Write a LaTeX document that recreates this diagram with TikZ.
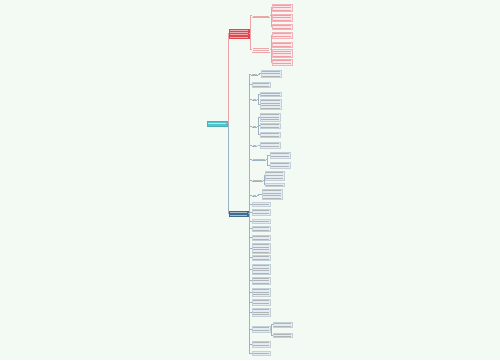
\documentclass[tikz,border=0pt]{standalone}
\usetikzlibrary{calc}
\definecolor{bg}{HTML}{F2FAF3}
\definecolor{rootc}{HTML}{55C4CA}
\definecolor{redc}{HTML}{E2464F}
\definecolor{bluec}{HTML}{3F6B8C}
\definecolor{rleaf}{HTML}{FCE8EB}
\definecolor{rleafb}{HTML}{F4B3B9}
\definecolor{bleaf}{HTML}{E6EDF2}
\definecolor{bleafb}{HTML}{C3D0DA}
\definecolor{rline}{HTML}{E9A3A9}
\definecolor{bline}{HTML}{9DB2C2}
\tikzset{
  base/.style={inner sep=0pt, outer sep=0pt, line width=0.3pt},
  rootbox/.style={base, fill=rootc, draw=rootc!90!black},
  redbox/.style={base, fill=redc, draw=redc},
  bluebox/.style={base, fill=bluec, draw=bluec},
  rleafbox/.style={base, fill=rleaf, draw=rleafb},
  bleafbox/.style={base, fill=bleaf, draw=bleafb},
  ultext/.style={base},
  rcon/.style={draw=rline, line width=0.6pt},
  bcon/.style={draw=bline, line width=0.6pt},
  wline/.style={white, line width=0.4pt, opacity=0.55},
  rtline/.style={redc, line width=0.4pt, opacity=0.45},
  btline/.style={black!70, line width=0.4pt, opacity=0.35},
}
% box: style, name, x1, y1, x2, y2
\newcommand\bx[6]{\node[#1, minimum width={(#5-#3)*1pt}, minimum height={(#6-#4)*1pt}] (#2) at ({(#3+#5)/2},{(#4+#6)/2}) {};}
% text strokes: style, node name, lines
\newcommand\tl[3]{\foreach \i [evaluate=\i as \f using (\i-0.5)/#3] in {1,...,#3}
  {\draw[#1] ($(#2.north west)!\f!(#2.south west)+(1.2,0)$) -- ($(#2.north east)!\f!(#2.south east)+(-1.2,0)$);}}
\newcommand\ul[2]{\draw[#1, line width=0.5pt] (#2.south west) -- (#2.south east);}
\begin{document}
\begin{tikzpicture}[x=1pt,y=-1pt]
\fill[bg] (0,0) rectangle (500,360);
\useasboundingbox (0,0) rectangle (500,360);
% root and main branches
\bx{rootbox}{root}{207}{121}{227}{126}
\bx{redbox}{red}{229}{29}{249}{38}
\bx{bluebox}{blue}{229}{211}{248}{216}
\draw[rcon] (root.east) -- ++(1,0) |- (red.west);
\draw[bcon] (root.east) -- ++(1,0) |- (blue.west);
\tl{wline}{root}{1}
\tl{wline}{red}{4}
\tl{wline}{blue}{2}
% red subtree
\bx{ultext}{r1}{252}{14}{270}{17.5}
\bx{ultext}{r2}{252}{46.5}{270}{52}
\draw[rcon] (red.east) -- ++(1,0) |- (r1.west);
\draw[rcon] (red.east) -- ++(1,0) |- (r2.west);
\tl{rtline}{r1}{1}\ul{rline}{r1}
\tl{rtline}{r2}{2}\ul{rline}{r2}
\bx{rleafbox}{r1a}{272}{4}{292}{11}
\bx{rleafbox}{r1b}{272}{14}{292}{21}
\bx{rleafbox}{r1c}{272}{24}{292}{29}
\bx{rleafbox}{r2a}{272}{32}{292}{38}
\bx{rleafbox}{r2b}{272}{42}{292}{47}
\bx{rleafbox}{r2c}{272}{49.5}{292}{57}
\bx{rleafbox}{r2d}{272}{59}{292}{65}
\foreach \n in {r1a,r1b,r1c} {\draw[rcon] (r1.east) -- ++(1,0) |- (\n.west);}
\foreach \n in {r2a,r2b,r2c,r2d} {\draw[rcon] (r2.east) -- ++(1,0) |- (\n.west);}
\tl{rtline}{r1a}{3}\tl{rtline}{r1b}{3}\tl{rtline}{r1c}{2}
\tl{rtline}{r2a}{2}\tl{rtline}{r2b}{2}\tl{rtline}{r2c}{3}\tl{rtline}{r2d}{2}
% blue subtree: level 2 with children
\bx{ultext}{a1}{251}{72.5}{258}{75.5}
\bx{ultext}{a3}{252}{97.5}{257}{100.5}
\bx{ultext}{a4}{252}{124.5}{257}{127.5}
\bx{ultext}{a5}{252}{143.5}{257}{146.5}
\bx{ultext}{a6}{252}{157.5}{266}{160.5}
\bx{ultext}{a7}{252}{178.5}{263}{181.5}
\bx{ultext}{a8}{252}{193.5}{257}{196.5}
\bx{bleafbox}{a2}{252}{82}{270}{87}
\foreach \n in {a1,a3,a4,a5,a6,a7,a8} {\tl{btline}{\n}{1}\ul{bline}{\n}}
% blue leaf-boxes at level 2
\bx{bleafbox}{b1}{252}{202}{270}{206}
\bx{bleafbox}{b2}{252}{209}{270}{215}
\bx{bleafbox}{b3}{252}{219}{270}{223}
\bx{bleafbox}{b4}{252}{226}{270}{231}
\bx{bleafbox}{b5}{252}{235}{270}{240}
\bx{bleafbox}{b6}{252}{243}{270}{253}
\bx{bleafbox}{b7}{252}{255}{270}{260}
\bx{bleafbox}{b8}{252}{264}{270}{274}
\bx{bleafbox}{b9}{252}{277}{270}{284}
\bx{bleafbox}{b10}{252}{288}{270}{296}
\bx{bleafbox}{b11}{252}{299}{270}{305}
\bx{bleafbox}{b12}{252}{308}{270}{316}
\bx{bleafbox}{b13}{252}{326}{270}{332}
\bx{bleafbox}{b14}{252}{341}{270}{347}
\bx{bleafbox}{b15}{252}{351}{270}{355}
\foreach \n in {a1,a2,a3,a4,a5,a6,a7,a8,b1,b2,b3,b4,b5,b6,b7,b8,b9,b10,b11,b12,b13,b14,b15}
  {\draw[bcon] (blue.east) -- ++(1.5,0) |- (\n.west);}
\tl{btline}{a2}{2}
\tl{btline}{b1}{1}\tl{btline}{b2}{2}\tl{btline}{b3}{1}\tl{btline}{b4}{2}\tl{btline}{b5}{2}
\tl{btline}{b6}{4}\tl{btline}{b7}{2}\tl{btline}{b8}{4}\tl{btline}{b9}{3}\tl{btline}{b10}{3}
\tl{btline}{b11}{2}\tl{btline}{b12}{3}\tl{btline}{b13}{2}\tl{btline}{b14}{2}\tl{btline}{b15}{1}
% blue level 3 leaves
\bx{bleafbox}{l1}{261}{70}{281}{77}
\bx{bleafbox}{l3a}{260}{92}{281}{96}
\bx{bleafbox}{l3b}{260}{99}{281}{109}
\bx{bleafbox}{l4a}{260}{113}{280}{121}
\bx{bleafbox}{l4b}{260}{123}{280}{128}
\bx{bleafbox}{l4c}{260}{132}{280}{137}
\bx{bleafbox}{l5}{260}{142}{280}{148}
\bx{bleafbox}{l6a}{270}{152}{290}{158}
\bx{bleafbox}{l6b}{270}{162}{290}{168}
\bx{bleafbox}{l7a}{265}{171}{284}{180}
\bx{bleafbox}{l7b}{265}{183}{284}{186.5}
\bx{bleafbox}{l8}{262}{189}{282}{199}
\bx{bleafbox}{l13a}{273}{322}{292}{327}
\bx{bleafbox}{l13b}{273}{333}{292}{337}
\draw[bcon] (a1.east) -- ++(1.5,0) |- (l1.west);
\foreach \n in {l3a,l3b} {\draw[bcon] (a3.east) -- ++(1.5,0) |- (\n.west);}
\foreach \n in {l4a,l4b,l4c} {\draw[bcon] (a4.east) -- ++(1.5,0) |- (\n.west);}
\draw[bcon] (a5.east) -- ++(1.5,0) |- (l5.west);
\foreach \n in {l6a,l6b} {\draw[bcon] (a6.east) -- ++(1.5,0) |- (\n.west);}
\foreach \n in {l7a,l7b} {\draw[bcon] (a7.east) -- ++(1,0) |- (\n.west);}
\draw[bcon] (a8.east) -- ++(1.5,0) |- (l8.west);
\foreach \n in {l13a,l13b} {\draw[bcon] (b13.east) -- ++(1.5,0) |- (\n.west);}
\tl{btline}{l1}{3}\tl{btline}{l3a}{2}\tl{btline}{l3b}{4}\tl{btline}{l4a}{3}\tl{btline}{l4b}{2}
\tl{btline}{l4c}{2}\tl{btline}{l5}{2}\tl{btline}{l6a}{2}\tl{btline}{l6b}{2}\tl{btline}{l7a}{3}
\tl{btline}{l7b}{1}\tl{btline}{l8}{4}\tl{btline}{l13a}{2}\tl{btline}{l13b}{2}
\end{tikzpicture}
\end{document}
